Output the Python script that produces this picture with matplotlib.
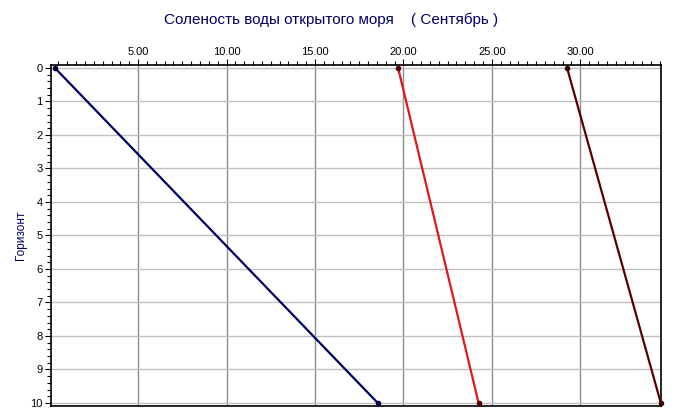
import matplotlib
matplotlib.use("Agg")
import matplotlib.pyplot as plt
from matplotlib.ticker import MultipleLocator, FormatStrFormatter

# глубины (горизонт) и соленость по трем станциям
depth = [0, 10]
sal_blue = [0.3, 18.55]
sal_red = [19.7, 24.25]
sal_dark = [29.25, 34.55]

title = "Соленость воды открытого моря    ( Сентябрь )"
ylabel = "Горизонт"

plt.rcParams['font.family'] = ['Liberation Sans', 'DejaVu Sans']

fig = plt.figure(figsize=(6.75, 4.19), dpi=100, facecolor='white')
ax = fig.add_axes([0.0756, 0.031, 0.9034, 0.814])

ax.plot(sal_blue, depth, color='#000066', lw=1.6, marker='o', ms=3,
        mfc='#000033', mec='#000033', zorder=3, clip_on=False)
ax.plot(sal_red, depth, color='#e01818', lw=1.6, marker='o', ms=3,
        mfc='#550000', mec='#550000', zorder=3, clip_on=False)
ax.plot(sal_dark, depth, color='#5a0000', lw=1.6, marker='o', ms=3,
        mfc='#330000', mec='#330000', zorder=3, clip_on=False)

ax.set_xlim(0.08, 34.55)
ax.set_ylim(10.09, -0.09)

ax.xaxis.tick_top()
ax.xaxis.set_major_locator(MultipleLocator(5))
ax.xaxis.set_minor_locator(MultipleLocator(0.5))
ax.xaxis.set_major_formatter(FormatStrFormatter('%.2f'))
ax.yaxis.set_major_locator(MultipleLocator(1))
ax.yaxis.set_minor_locator(MultipleLocator(0.2))

ax.tick_params(axis='both', which='major', labelsize=8, length=4, width=0.8,
               color='black', pad=2)
ax.tick_params(axis='both', which='minor', length=3, width=0.8, color='black')

ax.grid(axis='x', which='major', color='#8c8c8c', lw=1.0)
ax.grid(axis='y', which='major', color='#c0c0c0', lw=1.0)

for s in ax.spines.values():
    s.set_color('black')
    s.set_linewidth(1.2)

ax.set_ylabel(ylabel, color='#000066', fontsize=8.5)
ax.yaxis.set_label_coords(-0.039, 0.5)
fig.text(0.49, 0.952, title, ha='center', va='center', color='#000066',
         fontsize=11)

fig.savefig('out.png', dpi=100)
